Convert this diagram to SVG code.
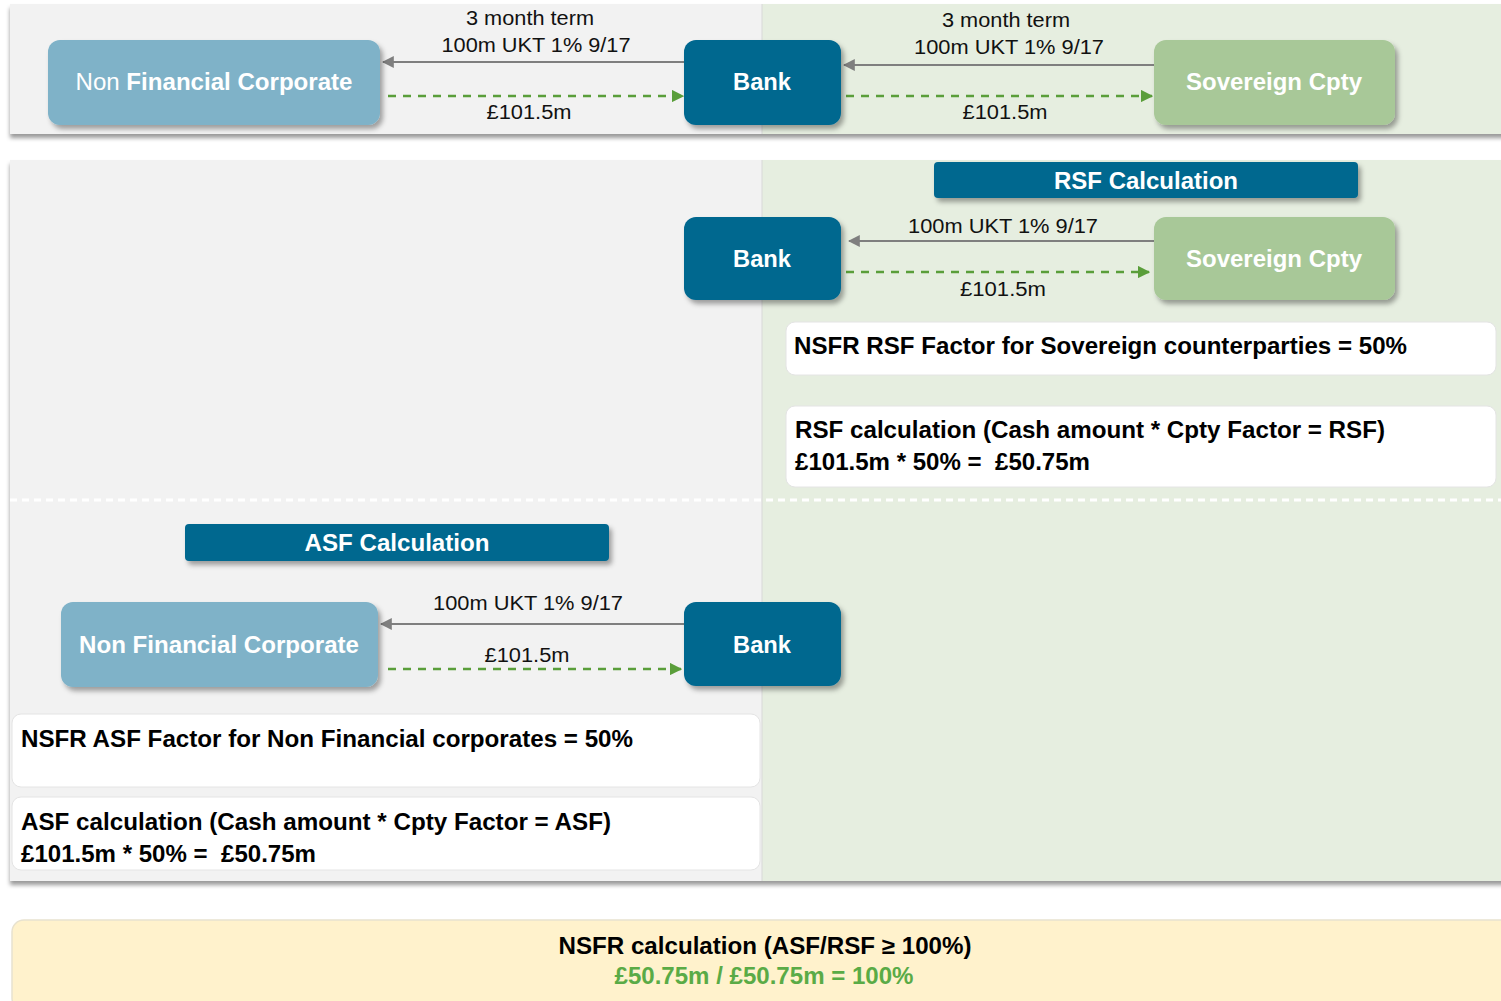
<svg xmlns="http://www.w3.org/2000/svg" width="1501" height="1001" viewBox="0 0 1501 1001">
<defs>
<filter id="sh" x="-10%" y="-10%" width="130%" height="140%">
<feDropShadow dx="3" dy="4" stdDeviation="2.5" flood-color="#000" flood-opacity="0.35"/>
</filter>
<filter id="psh" x="-5%" y="-5%" width="110%" height="115%">
<feDropShadow dx="0" dy="4" stdDeviation="2" flood-color="#000" flood-opacity="0.4"/>
</filter>
<marker id="ag" viewBox="0 0 10 10" refX="9" refY="5" markerWidth="6" markerHeight="6" orient="auto"><path d="M0,0 L10,5 L0,10 z" fill="#7f7f7f"/></marker>
<marker id="agr" viewBox="0 0 10 10" refX="9" refY="5" markerWidth="5" markerHeight="5" orient="auto"><path d="M0,0 L10,5 L0,10 z" fill="#5a9e3a"/></marker>
</defs>
<style>
text{font-family:"Liberation Sans",Arial,sans-serif}
.nt{font-size:23px;fill:#fff;font-weight:bold}
.lb{font-size:20px;fill:#111}
.bt{font-size:23px;fill:#000;font-weight:bold}
.bank{fill:#03678f}
.nfc{fill:#7fb2c8}
.sov{fill:#a8c898}
.ga{stroke:#7f7f7f;stroke-width:2;fill:none}
.gr{stroke:#5a9e3a;stroke-width:2.5;stroke-dasharray:8,7;fill:none}
.wb{fill:#fff;stroke:#e4e4e4;stroke-width:1}
</style>
<rect width="1501" height="1001" fill="#fff"/>
<!-- panels -->
<g id="panel-top" filter="url(#psh)">
<rect x="10" y="4" width="752" height="130" fill="#f2f2f2"/>
<rect x="762" y="4" width="745" height="130" fill="#e6eee0"/>
</g>
<g id="panel-main" filter="url(#psh)">
<rect x="10" y="160" width="752" height="721" fill="#f2f2f2"/>
<rect x="762" y="160" width="745" height="721" fill="#e6eee0"/>
</g>
<line x1="762" y1="4" x2="762" y2="134" stroke="#d8d8d8" stroke-width="1"/>
<line x1="762" y1="160" x2="762" y2="881" stroke="#d8d8d8" stroke-width="1"/>
<line x1="10" y1="500" x2="1501" y2="500" stroke="#fff" stroke-width="3" stroke-dasharray="7,5"/>

<!-- connectors -->
<g id="connectors">
<line class="ga" x1="684" y1="62" x2="383" y2="62" marker-end="url(#ag)"/>
<line class="gr" x1="388" y1="96" x2="683" y2="96" marker-end="url(#agr)"/>
<line class="ga" x1="1154" y1="65" x2="844" y2="65" marker-end="url(#ag)"/>
<line class="gr" x1="846" y1="96" x2="1152" y2="96" marker-end="url(#agr)"/>
<line class="ga" x1="1154" y1="241" x2="849" y2="241" marker-end="url(#ag)"/>
<line class="gr" x1="846" y1="272" x2="1149" y2="272" marker-end="url(#agr)"/>
<line class="ga" x1="684" y1="624" x2="381" y2="624" marker-end="url(#ag)"/>
<line class="gr" x1="388" y1="669" x2="681" y2="669" marker-end="url(#agr)"/>
<text class="lb" x="530" y="25" text-anchor="middle" textLength="128" lengthAdjust="spacingAndGlyphs">3 month term</text>
<text class="lb" x="536" y="52" text-anchor="middle" textLength="189" lengthAdjust="spacingAndGlyphs">100m UKT 1% 9/17</text>
<text class="lb" x="529" y="119" text-anchor="middle" textLength="85" lengthAdjust="spacingAndGlyphs">£101.5m</text>
<text class="lb" x="1006" y="27" text-anchor="middle" textLength="128" lengthAdjust="spacingAndGlyphs">3 month term</text>
<text class="lb" x="1009" y="54" text-anchor="middle" textLength="190" lengthAdjust="spacingAndGlyphs">100m UKT 1% 9/17</text>
<text class="lb" x="1005" y="119" text-anchor="middle" textLength="85" lengthAdjust="spacingAndGlyphs">£101.5m</text>
<text class="lb" x="1003" y="233" text-anchor="middle" textLength="190" lengthAdjust="spacingAndGlyphs">100m UKT 1% 9/17</text>
<text class="lb" x="1003" y="296" text-anchor="middle" textLength="86" lengthAdjust="spacingAndGlyphs">£101.5m</text>
<text class="lb" x="528" y="610" text-anchor="middle" textLength="190" lengthAdjust="spacingAndGlyphs">100m UKT 1% 9/17</text>
<text class="lb" x="527" y="662" text-anchor="middle" textLength="85" lengthAdjust="spacingAndGlyphs">£101.5m</text>
</g>

<!-- top row nodes -->
<g id="nfc-top">
<rect class="nfc" x="48" y="40" width="332" height="85" rx="12" filter="url(#sh)"/>
<text class="nt" x="214" y="90" text-anchor="middle" textLength="277" lengthAdjust="spacingAndGlyphs"><tspan font-weight="normal">Non </tspan>Financial Corporate</text>
</g>
<g id="bank-top">
<rect class="bank" x="684" y="40" width="157" height="85" rx="12" filter="url(#sh)"/>
<text class="nt" x="762" y="90" text-anchor="middle" textLength="58" lengthAdjust="spacingAndGlyphs">Bank</text>
</g>
<g id="sov-top">
<rect class="sov" x="1154" y="40" width="241" height="85" rx="12" filter="url(#sh)"/>
<text class="nt" x="1274" y="90" text-anchor="middle" textLength="176" lengthAdjust="spacingAndGlyphs">Sovereign Cpty</text>
</g>

<!-- RSF section -->
<g id="rsf-header">
<rect class="bank" x="934" y="162" width="424" height="36" rx="4" filter="url(#sh)"/>
<text class="nt" x="1146" y="189" text-anchor="middle" textLength="184" lengthAdjust="spacingAndGlyphs">RSF Calculation</text>
</g>
<g id="bank-rsf">
<rect class="bank" x="684" y="217" width="157" height="83" rx="12" filter="url(#sh)"/>
<text class="nt" x="762" y="267" text-anchor="middle" textLength="58" lengthAdjust="spacingAndGlyphs">Bank</text>
</g>
<g id="sov-rsf">
<rect class="sov" x="1154" y="217" width="241" height="83" rx="12" filter="url(#sh)"/>
<text class="nt" x="1274" y="267" text-anchor="middle" textLength="176" lengthAdjust="spacingAndGlyphs">Sovereign Cpty</text>
</g>
<g id="rsf-factor">
<rect class="wb" x="786" y="322" width="710" height="53" rx="9"/>
<text class="bt" x="794" y="354" textLength="613" lengthAdjust="spacingAndGlyphs">NSFR RSF Factor for Sovereign counterparties = 50%</text>
</g>
<g id="rsf-calc">
<rect class="wb" x="786" y="406" width="710" height="81" rx="9"/>
<text class="bt" x="795" y="438" textLength="590" lengthAdjust="spacingAndGlyphs">RSF calculation (Cash amount * Cpty Factor = RSF)</text>
<text class="bt" x="795" y="470" textLength="295" lengthAdjust="spacingAndGlyphs">£101.5m * 50% =&#160; £50.75m</text>
</g>

<!-- ASF section -->
<g id="asf-header">
<rect class="bank" x="185" y="524" width="424" height="37" rx="4" filter="url(#sh)"/>
<text class="nt" x="397" y="551" text-anchor="middle" textLength="185" lengthAdjust="spacingAndGlyphs">ASF Calculation</text>
</g>
<g id="nfc-asf">
<rect class="nfc" x="61" y="602" width="317" height="85" rx="12" filter="url(#sh)"/>
<text class="nt" x="219" y="653" text-anchor="middle" textLength="280" lengthAdjust="spacingAndGlyphs">Non Financial Corporate</text>
</g>
<g id="bank-asf">
<rect class="bank" x="684" y="602" width="157" height="84" rx="12" filter="url(#sh)"/>
<text class="nt" x="762" y="653" text-anchor="middle" textLength="58" lengthAdjust="spacingAndGlyphs">Bank</text>
</g>
<g id="asf-factor">
<rect class="wb" x="12" y="714" width="748" height="73" rx="9"/>
<text class="bt" x="21" y="747" textLength="612" lengthAdjust="spacingAndGlyphs">NSFR ASF Factor for Non Financial corporates = 50%</text>
</g>
<g id="asf-calc">
<rect class="wb" x="12" y="797" width="748" height="73" rx="9"/>
<text class="bt" x="21" y="830" textLength="590" lengthAdjust="spacingAndGlyphs">ASF calculation (Cash amount * Cpty Factor = ASF)</text>
<text class="bt" x="21" y="862" textLength="295" lengthAdjust="spacingAndGlyphs">£101.5m * 50% =&#160; £50.75m</text>
</g>

<!-- NSFR result -->
<g id="nsfr-result">
<rect x="12" y="920" width="1510" height="90" rx="12" fill="#fff2cc" stroke="#e8e2cf" stroke-width="1.5"/>
<text class="bt" x="765" y="954" text-anchor="middle" textLength="413" lengthAdjust="spacingAndGlyphs">NSFR calculation (ASF/RSF ≥ 100%)</text>
<text class="bt" x="764" y="984" text-anchor="middle" style="fill:#5aab46" textLength="299" lengthAdjust="spacingAndGlyphs">£50.75m / £50.75m = 100%</text>
</g>
</svg>
